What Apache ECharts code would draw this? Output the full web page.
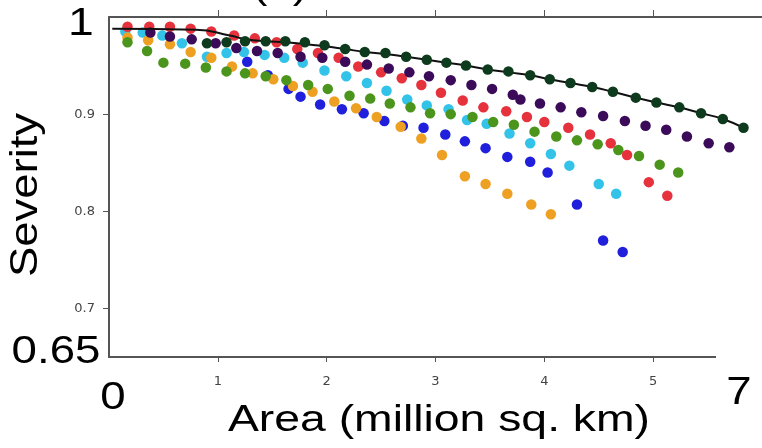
<!DOCTYPE html>
<html><head><meta charset="utf-8">
<script src="https://cdn.jsdelivr.net/npm/echarts@6/dist/echarts.min.js"></script>
<style>html,body{margin:0;padding:0;background:#fff}#c{width:762px;height:448px}</style>
</head><body><div id="c"></div>
<script>
// Axis ticks
const xTicks = [1, 2, 3, 4, 5];
const yTicks = [0.7, 0.8, 0.9];
// Series values as [area (million sq. km), severity]
const bluePts = [[1.27,0.954],[1.46,0.940],[1.65,0.926],[1.76,0.918],[1.94,0.910],[2.14,0.905],[2.34,0.901],[2.53,0.893],[2.70,0.888],[2.89,0.886],[3.09,0.879],[3.27,0.872],[3.46,0.865],[3.66,0.856],[3.87,0.851],[4.03,0.840],[4.30,0.807],[4.54,0.770],[4.72,0.758]];
const cyanPts = [[0.15,0.985],[0.31,0.984],[0.49,0.981],[0.67,0.973],[0.90,0.959],[1.08,0.963],[1.24,0.964],[1.43,0.961],[1.61,0.958],[1.78,0.953],[1.98,0.945],[2.18,0.939],[2.37,0.932],[2.55,0.924],[2.74,0.915],[2.92,0.909],[3.12,0.905],[3.29,0.894],[3.47,0.890],[3.68,0.880],[3.87,0.870],[4.06,0.859],[4.23,0.847],[4.50,0.828],[4.66,0.818]];
const orangePts = [[0.17,0.979],[0.36,0.976],[0.56,0.972],[0.75,0.964],[0.94,0.958],[1.13,0.949],[1.32,0.942],[1.51,0.936],[1.69,0.929],[1.87,0.923],[2.07,0.913],[2.27,0.906],[2.46,0.897],[2.68,0.887],[2.87,0.875],[3.06,0.858],[3.27,0.836],[3.46,0.828],[3.66,0.818],[3.88,0.807],[4.06,0.797]];
const greenPts = [[0.17,0.974],[0.35,0.965],[0.50,0.953],[0.70,0.952],[0.89,0.948],[1.08,0.944],[1.25,0.942],[1.44,0.939],[1.63,0.935],[1.83,0.930],[2.01,0.926],[2.21,0.919],[2.40,0.916],[2.58,0.911],[2.77,0.907],[2.95,0.901],[3.14,0.900],[3.34,0.897],[3.53,0.892],[3.72,0.889],[3.91,0.882],[4.11,0.877],[4.30,0.873],[4.49,0.869],[4.68,0.863],[4.87,0.857],[5.06,0.848],[5.23,0.840]];
const redPts = [[0.17,0.990],[0.37,0.990],[0.56,0.990],[0.75,0.988],[0.94,0.985],[1.15,0.981],[1.34,0.978],[1.54,0.974],[1.73,0.967],[1.92,0.963],[2.11,0.958],[2.29,0.949],[2.50,0.943],[2.69,0.937],[2.87,0.930],[3.05,0.922],[3.25,0.914],[3.44,0.907],[3.65,0.903],[3.84,0.897],[4.00,0.892],[4.22,0.886],[4.42,0.879],[4.61,0.870],[4.76,0.858],[4.96,0.830],[5.13,0.816]];
const purplePts = [[0.38,0.984],[0.56,0.980],[0.76,0.977],[0.98,0.973],[1.17,0.968],[1.36,0.965],[1.55,0.963],[1.76,0.959],[1.96,0.958],[2.17,0.954],[2.37,0.951],[2.57,0.947],[2.76,0.943],[2.94,0.939],[3.14,0.935],[3.33,0.930],[3.52,0.926],[3.71,0.920],[3.78,0.915],[3.96,0.911],[4.15,0.907],[4.34,0.902],[4.54,0.898],[4.74,0.893],[4.93,0.888],[5.12,0.884],[5.31,0.877],[5.51,0.870],[5.70,0.866]];
const darkGreenPts = [[0.90,0.973],[1.08,0.974],[1.25,0.975],[1.44,0.975],[1.62,0.975],[1.80,0.974],[1.98,0.971],[2.17,0.967],[2.35,0.964],[2.54,0.963],[2.73,0.959],[2.92,0.956],[3.10,0.953],[3.28,0.950],[3.48,0.946],[3.67,0.944],[3.87,0.940],[4.05,0.936],[4.24,0.932],[4.44,0.928],[4.63,0.923],[4.84,0.917],[5.03,0.912],[5.24,0.907],[5.44,0.901],[5.64,0.895],[5.83,0.886]];
const fitPts = [[0.03,0.988],[0.80,0.987],[1.11,0.981],[1.26,0.977],[1.44,0.975],[1.62,0.974],[1.80,0.972],[1.98,0.970],[2.17,0.967],[2.35,0.964],[2.54,0.962],[2.73,0.959],[2.92,0.956],[3.10,0.953],[3.28,0.950],[3.48,0.946],[3.67,0.943],[3.87,0.940],[4.05,0.936],[4.24,0.932],[4.44,0.928],[4.63,0.923],[4.84,0.917],[5.03,0.912],[5.24,0.907],[5.44,0.901],[5.64,0.895],[5.83,0.886]];

const chart = echarts.init(document.getElementById('c'), null, {renderer: 'canvas'});
const axisColor = '#555';
const bigFont = '"Liberation Sans", Arial, sans-serif';
function scatter(name, data, color) {
  return {name, type: 'scatter', data, symbolSize: 10.5, itemStyle: {color, opacity: 1}, emphasis: {disabled: true}, z: 3};
}
function bigText(text, x, y, size, sx, extra) {
  return Object.assign({type: 'text', x, y, scaleX: sx, z: 100,
    style: {text, font: size + 'px ' + bigFont, fill: '#000', align: 'center', verticalAlign: 'middle'}}, extra || {});
}
chart.setOption({
  animation: false,
  backgroundColor: '#fff',
  grid: {left: 109, right: 0, top: 17, bottom: 91, outerBoundsMode: 'none', containLabel: false},
  xAxis: [{
    type: 'value', min: 0, max: 6, interval: 1, position: 'bottom',
    axisLine: {show: true, lineStyle: {color: axisColor, width: 2}},
    axisTick: {show: true, length: 5, lineStyle: {color: axisColor}, customValues: xTicks},
    axisLabel: {customValues: xTicks, margin: 18, fontSize: 13, color: '#444', fontFamily: '"DejaVu Sans", sans-serif'},
    splitLine: {show: false}
  }, {
    type: 'value', min: 0, max: 6, interval: 1, position: 'top',
    axisLine: {show: true, lineStyle: {color: axisColor, width: 2}},
    axisTick: {show: true, length: 7, lineStyle: {color: axisColor}, customValues: xTicks},
    axisLabel: {show: false}, splitLine: {show: false}
  }],
  yAxis: {
    type: 'value', min: 0.65, max: 1, interval: 0.05,
    axisLine: {show: true, lineStyle: {color: axisColor, width: 2}},
    axisTick: {show: true, length: 6, lineStyle: {color: axisColor}, customValues: yTicks},
    axisLabel: {customValues: yTicks, margin: 14, fontSize: 13, color: '#444', fontFamily: '"DejaVu Sans", sans-serif', formatter: v => v.toFixed(1)},
    splitLine: {show: false}
  },
  series: [
    scatter('blue', bluePts, '#1f1fdc'),
    scatter('cyan', cyanPts, '#33c3e8'),
    scatter('orange', orangePts, '#eea023'),
    scatter('green', greenPts, '#4c951d'),
    scatter('red', redPts, '#e5323d'),
    scatter('purple', purplePts, '#3b0b5a'),
    {name: 'fit', type: 'line', data: fitPts, smooth: true, symbol: 'none', lineStyle: {color: '#111', width: 2}, z: 4, emphasis: {disabled: true}},
    Object.assign(scatter('darkgreen', darkGreenPts, '#0e3a1d'), {z: 5})
  ],
  graphic: [
    {type: 'rect', shape: {x: 716, y: 350, width: 46, height: 14}, style: {fill: '#fff'}, z: 99},
    bigText('1', 81, 25, 38, 1.22),
    bigText('0.65', 56, 353, 38, 1.2),
    bigText('0', 113, 399, 38, 1.2),
    bigText('7', 739, 394, 38, 1.2),
    bigText('(a)', 280, -12, 38, 1.2),
    bigText('Area (million sq. km)', 439, 421, 37.5, 1.235),
    bigText('Severity', 26, 195, 39, 1.165, {rotation: Math.PI / 2})
  ]
});
</script></body></html>
